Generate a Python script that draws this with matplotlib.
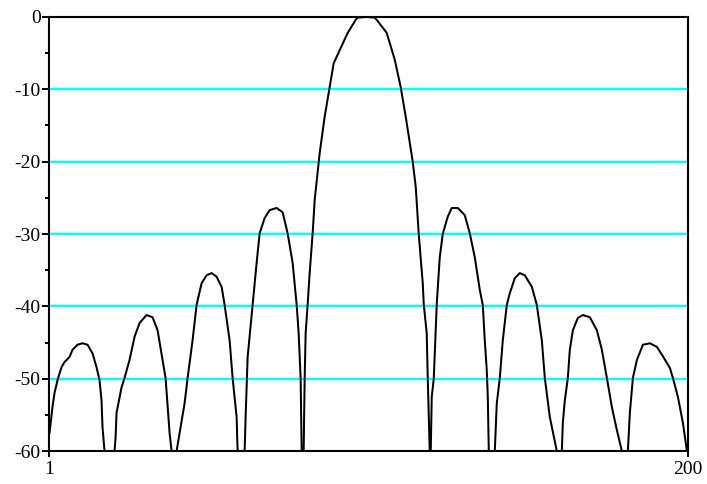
import matplotlib
matplotlib.use('Agg')
import matplotlib.pyplot as plt
from matplotlib.ticker import MultipleLocator

# points (sample index, level in dB)
x_pts = [1.16, 2.09, 2.71, 3.65, 4.90, 5.83, 7.39, 8.32, 9.88, 11.44, 13.0,
         14.56, 15.80, 16.74, 17.36, 17.67, 18.30, 21.41, 21.73, 22.04, 23.60,
         24.53, 26.09, 27.65, 29.21, 31.39, 33.26, 34.82, 36.37, 37.31, 38.56,
         39.18, 40.74, 41.67, 43.23, 44.17, 45.72, 46.97, 48.53, 50.09, 51.65,
         53.20, 54.76, 55.70, 57.26, 58.19, 59.44, 59.75, 61.93, 62.24, 62.87,
         64.42, 65.67, 66.61, 68.16, 69.72, 71.90, 73.77, 75.33, 76.89, 78.14,
         78.76, 79.38, 79.70, 80.32, 80.63, 80.94, 81.57, 82.19, 83.12, 83.75,
         85.0, 85.31, 86.86, 88.42, 89.67, 91.54, 94.03, 96.53, 97.15, 99.8,
         102.45, 103.07, 106.19, 108.68, 110.55, 112.11, 114.29, 115.23, 116.16,
         117.41, 117.72, 118.65, 118.97, 119.59, 119.90, 120.21, 120.84, 121.77,
         122.71, 123.64, 125.20, 126.45, 128.32, 130.50, 132.06, 133.61, 135.17,
         136.11, 136.73, 137.35, 137.67, 137.98, 139.85, 140.47, 141.41, 142.34,
         143.59, 144.52, 146.08, 147.64, 149.20, 151.38, 152.94, 154.50, 155.43,
         156.99, 159.17, 160.73, 161.04, 161.66, 162.60, 163.22, 164.16, 165.72,
         167.28, 169.46, 171.64, 173.20, 174.76, 176.31, 177.87, 179.43, 181.30,
         181.92, 182.86, 184.11, 185.98, 188.16, 190.34, 192.21, 194.39, 195.33,
         196.88, 198.44, 199.69]
y_pts = [-57.5, -53.9, -52.0, -50.2, -48.4, -47.7, -47.0, -46.0, -45.3, -45.1, -45.3,
         -46.5, -48.4, -50.2, -53.0, -56.7, -60, -60, -58.2, -54.7, -51.2,
         -49.9, -47.4, -44.2, -42.3, -41.2, -41.5, -43.3, -47.4, -49.9, -57.5,
         -60, -60, -57.5, -53.4, -49.9, -44.7, -39.8, -36.8, -35.7, -35.4,
         -35.9, -37.3, -39.8, -44.7, -49.9, -55.3, -60, -60, -55.3, -47.0,
         -39.8, -34.0, -29.9, -27.8, -26.7, -26.4, -27.0, -29.9, -34.0, -39.8,
         -43.7, -50.0, -60, -60, -50.0, -43.7, -39.7, -35.4, -29.9, -25.3,
         -20.0, -18.8, -13.8, -9.7, -6.4, -4.6, -2.2, -0.4, -0.1, 0.0,
         -0.1, -0.4, -2.2, -5.9, -9.7, -13.8, -20.0, -23.5, -30.0,
         -36.8, -39.7, -43.7, -50.0, -60, -60, -52.5, -50.0, -39.7,
         -33.2, -30.0, -27.6, -26.4, -26.4, -27.4, -29.9, -33.2, -37.7,
         -39.8, -44.7, -48.8, -52.5, -60, -60, -53.4, -49.9, -44.7,
         -39.8, -38.2, -36.1, -35.4, -35.7, -37.3, -39.8, -44.7, -49.9,
         -55.3, -60, -60, -56.1, -53.0, -49.9, -46.0, -43.3, -41.6,
         -41.2, -41.5, -43.3, -46.0, -49.9, -53.9, -57.1, -60, -60,
         -54.7, -49.9, -47.4, -45.3, -45.1, -45.6, -46.9, -48.5, -49.9,
         -52.5, -56.1, -60]

y_grid = [-10, -20, -30, -40, -50]
y_ticks = [0, -10, -20, -30, -40, -50, -60]
x_ticks = [1, 200]

fig = plt.figure(figsize=(7.07, 4.84), dpi=100)
ax = fig.add_axes([0.0693, 0.068, 0.9037, 0.897])

for g in y_grid:
    ax.axhline(g, color='#00ffff', lw=1.7, zorder=1)

ax.plot(x_pts, y_pts, color='black', lw=1.45, zorder=3)

ax.set_xlim(1, 200)
ax.set_ylim(-60, 0)
ax.set_yticks(y_ticks)
ax.set_xticks(x_ticks)
ax.yaxis.set_minor_locator(MultipleLocator(5))

font = {'family': 'Liberation Serif', 'size': 14}
ax.set_yticklabels([str(v) for v in y_ticks], fontdict=font)
ax.set_xticklabels([str(v) for v in x_ticks], fontdict=font)
ax.tick_params(axis='y', which='major', length=5, width=1.4, pad=1)
ax.tick_params(axis='y', which='minor', length=3, width=1.4)
ax.tick_params(axis='x', which='major', length=4, width=1.4, pad=3)

for s in ax.spines.values():
    s.set_linewidth(1.5)
    s.set_zorder(4)

fig.savefig('out.png', dpi=100)
